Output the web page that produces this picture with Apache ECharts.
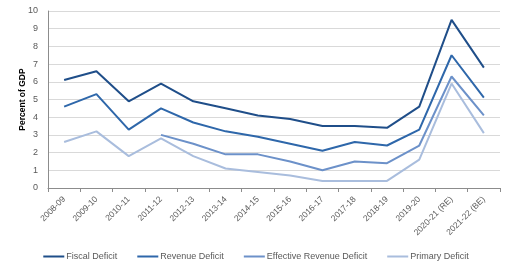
<!DOCTYPE html>
<html>
<head>
<meta charset="utf-8">
<script src="https://cdn.jsdelivr.net/npm/echarts@6/dist/echarts.min.js"></script>
<style>
  html, body { margin: 0; padding: 0; background: #fff; }
  #chart { width: 512px; height: 273px; }
</style>
</head>
<body>
<div id="chart"></div>
<script>
// years on the x axis
let years = ['2008-09', '2009-10', '2010-11', '2011-12', '2012-13', '2013-14', '2014-15',
    '2015-16', '2016-17', '2017-18', '2018-19', '2019-20', '2020-21 (RE)', '2021-22 (BE)'];
let fiscalDeficit = [6.1, 6.6, 4.9, 5.9, 4.9, 4.5, 4.1, 3.9, 3.5, 3.5, 3.4, 4.6, 9.5, 6.8];
let revenueDeficit = [4.6, 5.3, 3.3, 4.5, 3.7, 3.2, 2.9, 2.5, 2.1, 2.6, 2.4, 3.3, 7.5, 5.1];
let effRevenueDeficit = [null, null, null, 3.0, 2.5, 1.9, 1.9, 1.5, 1.0, 1.5, 1.4, 2.4, 6.3, 4.1];
let primaryDeficit = [2.6, 3.2, 1.8, 2.8, 1.8, 1.1, 0.9, 0.7, 0.4, 0.4, 0.4, 1.6, 5.9, 3.1];

let font = 'Liberation Sans';
let textCol = '#595959';

function line(name, data, color) {
    return {
        name: name,
        type: 'line',
        data: data,
        symbol: 'none',
        lineStyle: {color: color, width: 2},
        itemStyle: {color: color}
    };
}

let chart = echarts.init(document.getElementById('chart'));
chart.setOption({
    backgroundColor: '#fff',
    animation: false,
    grid: {left: 48, right: 12, top: 11, bottom: 85},
    legend: {
        bottom: 7,
        left: 'center',
        itemWidth: 21,
        itemHeight: 2,
        itemGap: 20,
        icon: 'rect',
        textStyle: {fontFamily: font, fontSize: 9, color: textCol, padding: [0, 0, 0, -3]},
        data: ['Fiscal Deficit', 'Revenue Deficit', 'Effective Revenue Deficit', 'Primary Deficit']
    },
    xAxis: {
        type: 'category',
        data: years,
        boundaryGap: true,
        axisLine: {lineStyle: {color: '#8c8c8c', width: 1}},
        axisTick: {show: true, alignWithLabel: false, length: 4, lineStyle: {color: '#8c8c8c'}},
        axisLabel: {rotate: 45, fontFamily: font, fontSize: 8.5, color: textCol, margin: 10, interval: 0}
    },
    yAxis: {
        type: 'value',
        min: 0,
        max: 10,
        interval: 1,
        name: 'Percent of GDP',
        nameLocation: 'middle',
        nameGap: 21,
        nameMoveOverlap: false,
        nameTextStyle: {fontFamily: font, fontSize: 8.5, fontWeight: 'bold', color: '#000'},
        axisLine: {show: true, lineStyle: {color: '#8c8c8c'}},
        axisTick: {show: false},
        axisLabel: {fontFamily: font, fontSize: 9, color: textCol, margin: 10},
        splitLine: {lineStyle: {color: '#d9d9d9', width: 1}}
    },
    series: [
        line('Fiscal Deficit', fiscalDeficit, '#1f4e89'),
        line('Revenue Deficit', revenueDeficit, '#2e67aa'),
        line('Effective Revenue Deficit', effRevenueDeficit, '#6c91c9'),
        line('Primary Deficit', primaryDeficit, '#a9bddd')
    ]
});
</script>
</body>
</html>
